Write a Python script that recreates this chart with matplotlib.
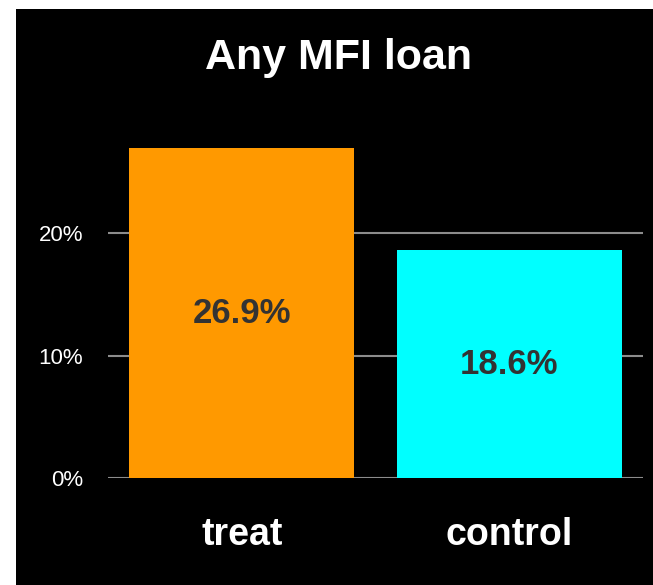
import matplotlib.pyplot as plt
from matplotlib.patches import Rectangle
from matplotlib.ticker import FuncFormatter

# values
groups = ['treat', 'control']
share = [26.9, 18.6]
bar_colors = ['#FF9900', '#00FFFF']
ticks = [0, 10, 20]

plt.rcParams['font.family'] = ['Liberation Sans', 'DejaVu Sans']

fig = plt.figure(figsize=(6.53, 5.85), dpi=100, facecolor='white')
# black panel, leaves a thin white strip on left and top
fig.patches.append(Rectangle((16 / 653, 0), 1, 1 - 9 / 585, transform=fig.transFigure,
                             facecolor='black', edgecolor='none', zorder=-1))

ax = fig.add_axes([108 / 653, 1 - 478 / 585, 535 / 653, 367.5 / 585])
ax.set_facecolor('black')

x = list(range(len(groups)))
bars = ax.bar(x, share, width=0.84, color=bar_colors, zorder=2)
for b, v in zip(bars, share):
    ax.text(b.get_x() + b.get_width() / 2, v / 2, f'{v:.1f}%', ha='center', va='center',
            fontsize=25, fontweight='bold', color='#333333', zorder=3)

ax.set_xlim(-0.5, 1.5)
ax.set_ylim(0, 30)
ax.set_yticks(ticks)
ax.yaxis.set_major_formatter(FuncFormatter(lambda v, p: f'{v:.0f}%'))
ax.set_xticks(x)
ax.set_xticklabels(groups, fontsize=27, fontweight='bold', color='white')
ax.tick_params(axis='x', length=0, pad=28)
ax.tick_params(axis='y', length=0, pad=18, labelsize=16, labelcolor='white')
ax.grid(axis='y', color='#8c8c8c', linewidth=1.5, zorder=1)
for s in ax.spines.values():
    s.set_visible(False)

fig.text(0.518, 1 - 58 / 585, 'Any MFI loan', ha='center', va='center',
         fontsize=31, fontweight='bold', color='white')

fig.savefig('out.png', dpi=100, facecolor='white')
